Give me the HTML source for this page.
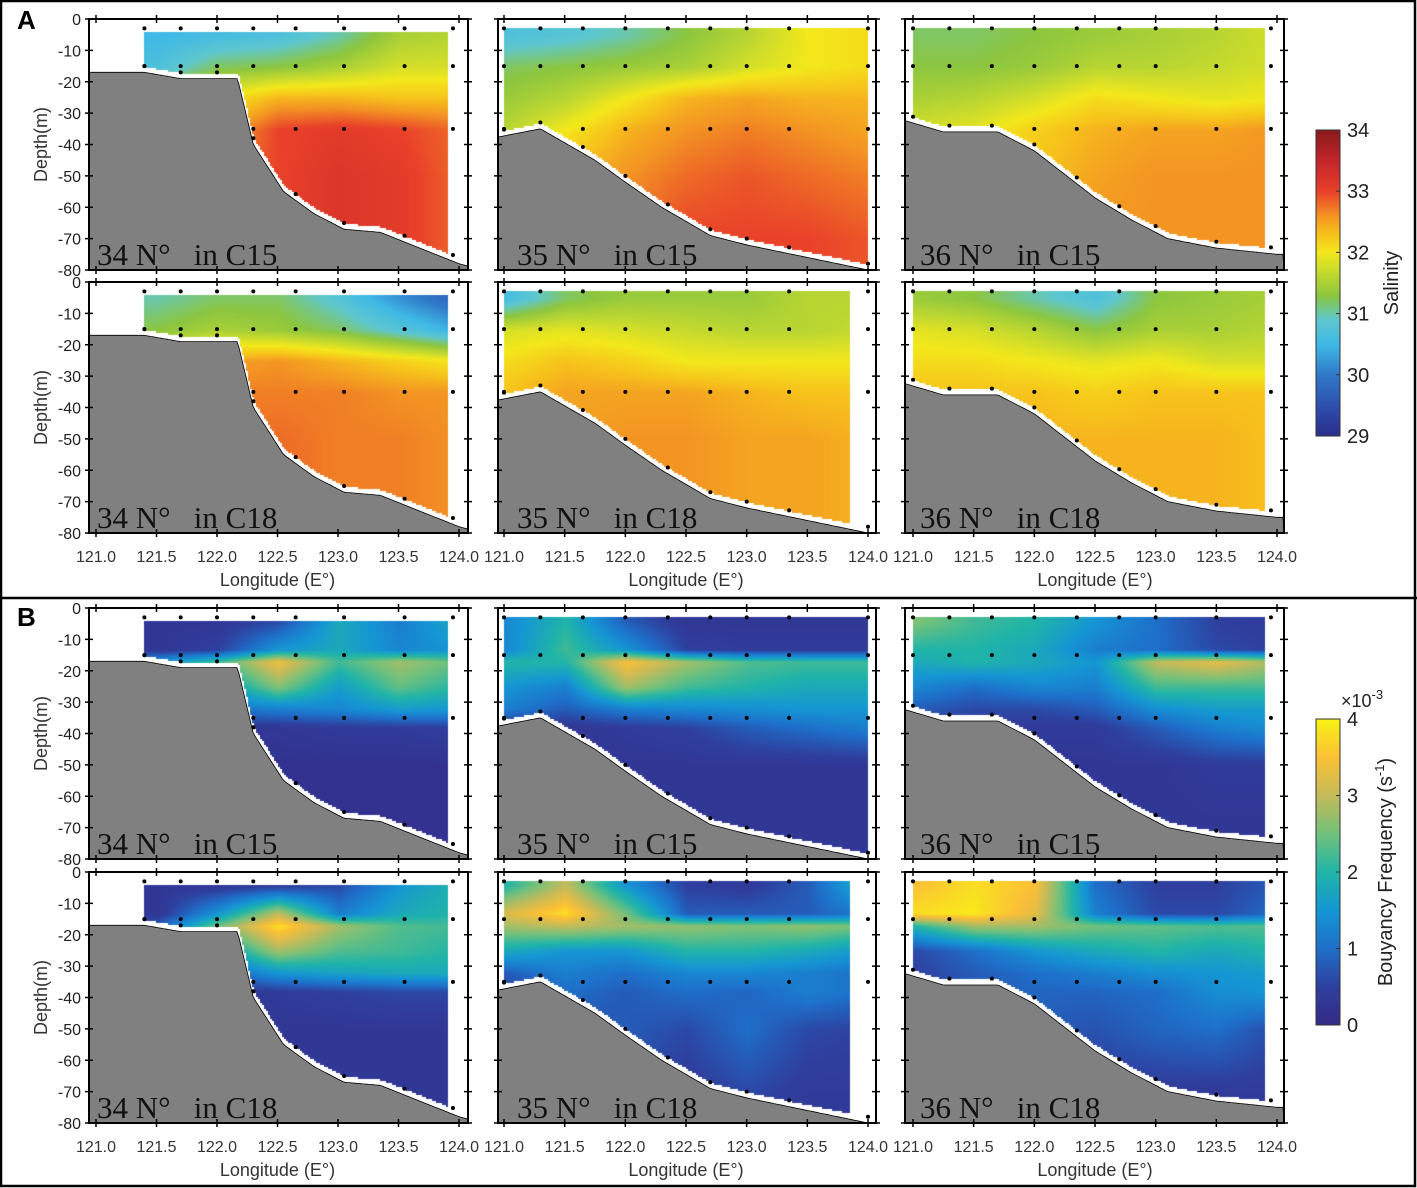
<!DOCTYPE html>
<html><head><meta charset="utf-8">
<style>
html,body{margin:0;padding:0;background:#fff;}
#wrap{position:relative;width:1417px;height:1188px;overflow:hidden;}
canvas,svg{position:absolute;left:0;top:0;}
text{font-family:"Liberation Sans",sans-serif;}
</style></head>
<body>
<div id="wrap">
<canvas id="cv" width="1417" height="1188"></canvas>
<svg id="sv" width="1417" height="1188" xmlns="http://www.w3.org/2000/svg"></svg>
</div>
<script>
// ---- data ----
const lonCols = [121.0,121.5,122.0,122.5,123.0,123.5,124.0];
const depthRows = [5,15,25,35,50,70];
const nDepthRows = [4,13,17,25,32,38,50,70];
const xTicks = [121.0,121.5,122.0,122.5,123.0,123.5,124.0];
const yTicks = [0,10,20,30,40,50,60,70,80];
const salTicks = [29,30,31,32,33,34];
const nTicks = [0,1,2,3,4];
const bathyLon34 = [120.9,121.4,121.7,122.17,122.3,122.55,122.8,123.05,123.35,124.0,124.2];
const bathyDep34 = [17,17,19,19,40,55,62,67,68,78,80];
const bathyLon35 = [120.9,121.3,121.75,122.0,122.3,122.7,123.0,124.0,124.2];
const bathyDep35 = [38,35,45,52,60,69,72,80,80];
const bathyLon36 = [120.9,121.25,121.7,122.0,122.5,122.8,123.1,123.5,124.0,124.2];
const bathyDep36 = [32,36,36,42,57,64,70,73,75,75];
const stations34 = [121.4,121.7,122.0,122.3,122.65,123.05,123.55,123.95];
const stations35 = [121.0,121.3,121.65,122.0,122.35,122.7,123.0,123.35,124.0];
const stations36 = [121.0,121.3,121.65,122.0,122.35,122.7,123.0,123.5,123.95];
// salinity grids (rows = depthRows, cols = lonCols)
const sal34C15 = [[30.5,30.5,30.6,30.7,31.0,31.5,31.6],[30.6,30.7,31.2,31.3,31.5,31.8,31.8],[31.5,31.5,32.0,32.4,32.4,32.3,32.3],[32.0,32.0,32.4,33.0,33.1,33.0,32.8],[32.5,32.5,32.8,33.0,33.2,33.1,32.8],[32.5,32.5,32.8,33.0,33.2,33.1,32.8]];
const sal35C15 = [[30.7,30.8,31.0,31.3,31.6,32.0,32.1],[31.2,31.3,31.4,31.5,31.8,32.0,32.1],[31.4,31.6,32.0,32.4,32.5,32.4,32.4],[31.6,32.0,32.4,32.6,32.7,32.6,32.5],[32.2,32.4,32.6,32.8,32.9,32.8,32.7],[32.5,32.6,32.8,33.0,33.0,33.0,32.9]];
const sal36C15 = [[31.2,31.2,31.3,31.4,31.5,31.6,31.8],[31.3,31.3,31.4,31.6,31.6,31.7,31.8],[31.5,31.6,31.8,32.1,32.0,31.9,32.0],[31.8,31.9,32.2,32.4,32.5,32.5,32.6],[32.0,32.1,32.3,32.5,32.6,32.6,32.6],[32.0,32.1,32.4,32.6,32.6,32.6,32.6]];
const sal34C18 = [[31.0,31.0,31.2,31.2,30.8,30.2,29.7],[31.2,31.3,31.5,31.4,31.2,30.8,30.4],[32.0,32.0,32.5,32.6,32.4,32.2,32.0],[32.5,32.5,32.7,32.7,32.7,32.6,32.6],[32.7,32.7,32.7,32.8,32.7,32.7,32.6],[32.7,32.7,32.7,32.8,32.7,32.7,32.6]];
const sal35C18 = [[30.6,31.2,31.4,31.4,31.4,31.6,31.6],[31.8,31.9,31.8,31.7,31.6,31.6,31.7],[32.1,32.3,32.2,32.0,32.0,32.0,32.0],[32.3,32.5,32.5,32.5,32.4,32.3,32.3],[32.4,32.5,32.6,32.6,32.5,32.5,32.4],[32.4,32.5,32.6,32.6,32.5,32.5,32.4]];
const sal36C18 = [[31.4,31.3,31.0,30.7,31.3,31.4,31.5],[31.9,31.8,31.6,31.3,31.5,31.5,31.6],[32.1,32.1,32.0,31.9,32.0,31.8,31.8],[32.3,32.3,32.3,32.2,32.3,32.3,32.3],[32.3,32.4,32.4,32.4,32.4,32.4,32.3],[32.3,32.4,32.4,32.4,32.4,32.4,32.3]];
// buoyancy frequency grids (x1e-3), rows = nDepthRows
const n34C15 = [[0.3,0.3,0.3,0.6,1.8,1.2,1.8],[0.3,0.3,0.5,1.5,1.8,1.3,1.5],[1.5,1.5,2.2,3.4,2.2,2.8,2.4],[1.5,1.5,1.5,2.6,1.6,2.4,2.0],[1.0,1.0,1.0,1.2,1.3,1.6,1.5],[0.3,0.3,0.3,0.3,0.4,0.4,0.5],[0.2,0.2,0.2,0.2,0.2,0.2,0.2],[0.2,0.2,0.2,0.2,0.2,0.2,0.2]];
const n35C15 = [[1.3,2.0,0.8,0.3,0.3,0.3,0.3],[1.3,2.2,1.5,0.5,0.4,0.4,0.4],[2.0,2.0,3.5,2.8,2.3,2.2,2.2],[1.5,1.2,2.8,2.2,2.0,1.8,1.8],[1.2,0.8,1.2,1.3,1.4,1.5,1.5],[0.3,0.3,0.4,0.5,0.8,1.0,1.2],[0.3,0.3,0.3,0.3,0.3,0.3,0.3],[0.3,0.3,0.3,0.3,0.3,0.3,0.3]];
const n36C15 = [[2.6,2.2,2.0,1.5,1.0,0.5,0.4],[2.0,2.0,1.8,1.2,1.0,0.6,0.5],[1.8,2.0,1.8,1.5,3.0,3.3,2.8],[1.3,1.0,1.3,1.2,2.2,2.2,2.2],[0.8,0.6,0.6,0.8,1.4,1.6,1.6],[0.5,0.4,0.4,0.4,0.8,1.2,1.4],[0.3,0.3,0.3,0.3,0.3,0.4,0.4],[0.3,0.3,0.3,0.3,0.3,0.3,0.3]];
const n34C18 = [[0.3,0.3,0.3,0.4,0.6,1.5,2.0],[0.3,0.3,1.5,3.0,1.2,1.8,2.0],[0.8,0.8,2.5,3.8,2.8,2.3,2.2],[0.5,0.5,1.5,2.8,2.3,2.2,2.0],[0.4,0.4,0.8,1.5,1.7,1.8,1.8],[0.3,0.3,0.3,0.4,0.5,0.6,0.6],[0.3,0.3,0.3,0.3,0.3,0.3,0.3],[0.3,0.3,0.3,0.3,0.3,0.3,0.3]];
const n35C18 = [[2.0,3.0,1.5,0.5,0.4,0.8,2.0],[3.2,3.8,2.5,0.8,0.8,0.8,1.2],[2.8,3.0,2.8,2.7,2.6,2.7,2.5],[1.8,1.5,1.5,2.0,2.0,1.8,1.5],[0.8,1.2,1.0,1.3,1.3,1.2,1.0],[0.5,1.0,0.8,1.0,0.9,1.2,1.0],[0.4,0.6,0.8,0.6,1.0,0.6,0.5],[0.4,0.4,0.6,0.4,0.6,0.4,0.4]];
const n36C18 = [[3.5,3.8,3.5,1.0,0.5,0.5,0.8],[3.8,3.9,3.3,1.2,0.6,0.6,1.0],[2.0,2.8,2.8,2.5,2.4,2.3,2.3],[0.6,1.0,1.5,1.8,2.0,1.8,2.0],[0.5,0.8,1.0,1.2,1.4,1.5,1.6],[0.5,0.8,0.9,0.9,1.0,1.4,1.5],[0.4,0.6,0.8,0.7,0.9,1.0,0.6],[0.4,0.4,0.4,0.4,0.4,0.4,0.4]];

// ---- layout ----
const cols = [
  {x0:96,x1:459,fl:89,fr:468,lab:97,lat:'34',bl:bathyLon34,bd:bathyDep34,st:stations34,start:121.4,end:[123.9,123.9],top:4},
  {x0:504,x1:868,fl:498,fr:876,lab:517,lat:'35',bl:bathyLon35,bd:bathyDep35,st:stations35,start:121.0,end:[124.0,123.85],top:3},
  {x0:913,x1:1277,fl:905,fr:1284,lab:920,lat:'36',bl:bathyLon36,bd:bathyDep36,st:stations36,start:121.0,end:[123.9,123.9],top:3}
];
const rows = [{y0:19,y1:270},{y0:282,y1:533},{y0:608,y1:859},{y0:872,y1:1123}];
const panels = [
  [sal34C15,sal35C15,sal36C15,'C15','s'],
  [sal34C18,sal35C18,sal36C18,'C18','s'],
  [n34C15,n35C15,n36C15,'C15','n'],
  [n34C18,n35C18,n36C18,'C18','n']
];
const jet = [[29,'#2a2d8c'],[29.5,'#2e4fae'],[30,'#2f78c8'],[30.5,'#3fb9e6'],[30.9,'#5ec7cf'],[31.3,'#8cc63f'],[31.7,'#c6da2e'],[32,'#f3e81b'],[32.3,'#f7c31b'],[32.6,'#f39423'],[33,'#e9412a'],[33.5,'#c5252b'],[34,'#8a1a1c']];
const parula = [[0,'#352a87'],[0.5,'#2f3f9e'],[1,'#1e6fc9'],[1.5,'#1596d4'],[2,'#20b4a8'],[2.5,'#72c17c'],[3,'#c3bb5a'],[3.5,'#fbbf36'],[4,'#f8f314']];
function hex(c){return [parseInt(c.substr(1,2),16),parseInt(c.substr(3,2),16),parseInt(c.substr(5,2),16)];}
function cmap(m,v){
  if(v<=m[0][0]) return hex(m[0][1]);
  for(let i=1;i<m.length;i++){ if(v<=m[i][0]){const t=(v-m[i-1][0])/(m[i][0]-m[i-1][0]);const a=hex(m[i-1][1]),b=hex(m[i][1]);return a.map((x,k)=>Math.round(x+(b[k]-x)*t));}}
  return hex(m[m.length-1][1]);
}
function interp1(xs,ys,x){
  if(x<=xs[0]) return ys[0];
  for(let i=1;i<xs.length;i++) if(x<=xs[i]) return ys[i-1]+(ys[i]-ys[i-1])*(x-xs[i-1])/(xs[i]-xs[i-1]);
  return ys[ys.length-1];
}
function grid(g,dr,lon,d){
  const col=lonCols.map((_,j)=>interp1(dr,g.map(r=>r[j]),d));
  return interp1(lonCols,col,lon);
}
const ctx=document.getElementById('cv').getContext('2d');
const sv=document.getElementById('sv');
const NS='http://www.w3.org/2000/svg';
function el(tag,attrs,parent,txt){const e=document.createElementNS(NS,tag);for(const k in attrs)e.setAttribute(k,attrs[k]);if(txt!==undefined)e.textContent=txt;(parent||sv).appendChild(e);return e;}

panels.forEach((p,ri)=>{
  const r=rows[ri];
  cols.forEach((c,ci)=>{
    const xS=lon=>c.x0+(lon-121)*(c.x1-c.x0)/3;
    const yS=d=>r.y0+d*(r.y1-r.y0)/80;
    const g=p[ci], m=p[4]==='s'?jet:parula, dr=p[4]==='s'?depthRows:nDepthRows;
    const endLon=c.end[p[3]==='C15'?0:1];
    const step=2;
    for(let px=Math.round(xS(c.start));px<xS(endLon);px+=step){
      const lon=121+(px-c.x0)*3/(c.x1-c.x0);
      const bot=interp1(c.bl,c.bd,lon)-2;
      for(let py=Math.round(yS(c.top));py<r.y1;py+=step){
        const d=(py-r.y0)*80/(r.y1-r.y0);
        if(d>bot) break;
        const col=cmap(m,grid(g,dr,lon,d));
        ctx.fillStyle='rgb('+col.join(',')+')';
        ctx.fillRect(px,py,step,step);
      }
    }
    const grp=el('g',{});
    
    
    let pts=c.fl+','+r.y1+' ';
    for(let x=c.fl;x<=c.fr;x+=2){const lon=121+(x-c.x0)*3/(c.x1-c.x0);pts+=x+','+Math.min(r.y1,yS(interp1(c.bl,c.bd,lon))).toFixed(1)+' ';}
    pts+=c.fr+','+r.y1;
    const poly=el('polygon',{points:pts,fill:'#808080',stroke:'#000','stroke-width':0.8},grp);
    
    
    c.st.forEach(lon=>{
      const bot=interp1(c.bl,c.bd,lon)-2;
      [3,15,35,bot].forEach(d=>{ if(d<=bot){const dot=el('circle',{cx:xS(lon),cy:yS(d),r:2,fill:'#000'},grp);
        
        }});
    });
    const fr=el('rect',{x:c.fl,y:r.y0,width:c.fr-c.fl,height:r.y1-r.y0,fill:'none',stroke:'#000','stroke-width':2},grp);
    
    
    xTicks.forEach(t=>{const x=xS(t);el('line',{x1:x,x2:x,y1:r.y0-4,y2:r.y0+4,stroke:'#000','stroke-width':1.5},grp);el('line',{x1:x,x2:x,y1:r.y1-4,y2:r.y1+4,stroke:'#000','stroke-width':1.5},grp);});
    yTicks.forEach(t=>{const y=yS(t);el('line',{x1:c.fl-4,x2:c.fl+4,y1:y,y2:y,stroke:'#000','stroke-width':1.5},grp);el('line',{x1:c.fr-4,x2:c.fr+4,y1:y,y2:y,stroke:'#000','stroke-width':1.5},grp);
      if(ci===0){const tl=el('text',{x:c.fl-8,y:y+6,'text-anchor':'end','font-size':16,fill:'#222'},grp,t===0?'0':'-'+t);
        
        }});
    if(ri===1||ri===3){xTicks.forEach(t=>{const tl=el('text',{x:xS(t),y:r.y1+29,'text-anchor':'middle','font-size':16,fill:'#333'},grp,t.toFixed(1));
      
      });
      const xl=el('text',{x:(c.x0+c.x1)/2,y:r.y1+53,'text-anchor':'middle','font-size':18,fill:'#333'},grp,'Longitude (E°)');
      
      }
    if(ci===0){const yl=el('text',{x:0,y:0,transform:'translate(47,'+((r.y0+r.y1)/2)+') rotate(-90)','text-anchor':'middle','font-size':18,fill:'#333'},grp,'Depth(m)');
      
      }
    const lab=el('text',{x:c.lab,y:r.y1-5,'font-size':31,fill:'#111'},grp,c.lat+' N°   in '+p[3]);
    lab.style.fontFamily='"Liberation Serif",serif';
    lab.style.whiteSpace='pre';
    
    
  });
});
function colorbar(m,vmin,vmax,y0,y1,ticks,name){
  const g=el('g',{});
  
  
  for(let y=y0;y<y1;y++){const v=vmax-(y-y0)*(vmax-vmin)/(y1-y0);const c=cmap(m,v);ctx.fillStyle='rgb('+c.join(',')+')';ctx.fillRect(1316,y,24,1);}
  el('rect',{x:1316,y:y0,width:24,height:y1-y0,fill:'none',stroke:'#333','stroke-width':1},g);
  ticks.forEach(t=>{const y=y1-(t-vmin)*(y1-y0)/(vmax-vmin);el('line',{x1:1336,x2:1340,y1:y,y2:y,stroke:'#333'},g);
    const tl=el('text',{x:1347,y:y+7,'font-size':20,fill:'#222'},g,String(t));
    
    });
  return g;
}
const cb1=colorbar(jet,29,34,130,436,salTicks,'salinity-colorbar');
el('text',{x:0,y:0,transform:'translate(1398,283) rotate(-90)','text-anchor':'middle','font-size':20,fill:'#222'},cb1,'Salinity');
const cb2=colorbar(parula,0,4,719,1025,nTicks,'buoyancy-colorbar');
const ex=el('text',{x:1341,y:707,'font-size':18,fill:'#222'},cb2,'×10');
el('tspan',{dy:-8,'font-size':13},ex,'-3');
const bt=el('text',{x:0,y:0,transform:'translate(1392,872) rotate(-90)','text-anchor':'middle','font-size':20,fill:'#222'},cb2,'Bouyancy Frequency (s');
el('tspan',{dy:-8,'font-size':13},bt,'-1');
el('tspan',{dy:8},bt,')');
const b1=el('rect',{x:1,y:1,width:1414,height:1185,fill:'none',stroke:'#000','stroke-width':2.5});


const dv=el('line',{x1:0,x2:1417,y1:598,y2:598,stroke:'#000','stroke-width':2.5});


const la=el('text',{x:17,y:29,'font-size':26,'font-weight':'bold'},sv,'A');


const lb=el('text',{x:17,y:626,'font-size':26,'font-weight':'bold'},sv,'B');


</script>
</body></html>
